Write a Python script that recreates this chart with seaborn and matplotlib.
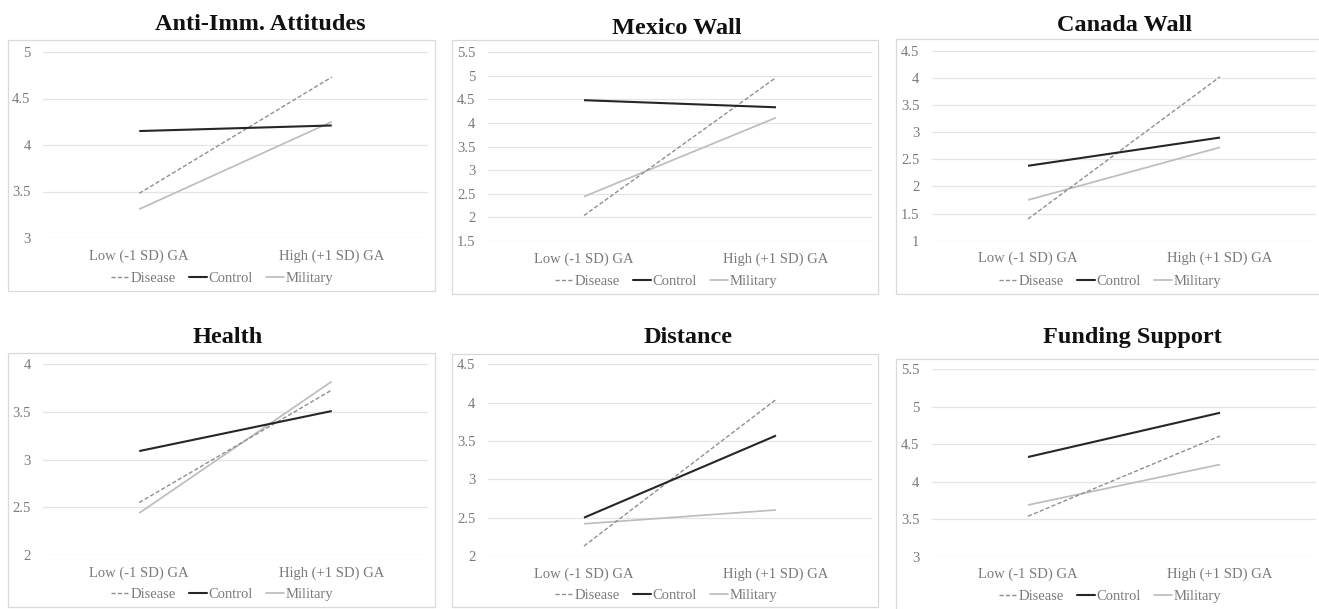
import numpy as np
import pandas as pd
import matplotlib
matplotlib.use("Agg")
import matplotlib.pyplot as plt
from matplotlib.lines import Line2D
from matplotlib.patches import Rectangle
import seaborn as sns

# ---- data ----
levels = ["Low (-1 SD) GA", "High (+1 SD) GA"]
conditions = ["Disease", "Control", "Military"]
titles = ["Anti-Imm. Attitudes", "Mexico Wall", "Canada Wall",
          "Health", "Distance", "Funding Support"]

disease = [[3.48, 4.73], [2.04, 4.96], [1.40, 4.02],
           [2.55, 3.73], [2.13, 4.04], [3.54, 4.61]]
control = [[4.15, 4.21], [4.48, 4.33], [2.38, 2.90],
           [3.09, 3.51], [2.50, 3.57], [4.33, 4.92]]
military = [[3.31, 4.25], [2.44, 4.11], [1.75, 2.72],
            [2.44, 3.82], [2.42, 2.60], [3.69, 4.23]]

y_ranges = [(3.0, 5.0), (1.5, 5.5), (1.0, 4.5),
            (2.0, 4.0), (2.0, 4.5), (3.0, 5.5)]

# ---- styling ----
sns.set_theme(style="white")
plt.rcParams["font.family"] = ["Liberation Serif", "DejaVu Serif"]

W, H = 1319, 609
fig = plt.figure(figsize=(W / 100, H / 100), dpi=100)
fig.patch.set_facecolor("white")

line_styles = {
    "Disease": dict(color="#8f8f8f", linewidth=1.0, dashes=(3, 1.6)),
    "Control": dict(color="#262626", linewidth=1.5, dashes=()),
    "Military": dict(color="#bdbdbd", linewidth=1.25, dashes=()),
}

tick_color = "#7a7a7a"
grid_color = "#e4e4e4"
box_color = "#d9d9d9"

# pixel layout: plot area (x0, x1, ytop, ybottom), chart box, title, legend
plot_px = [(43, 428, 52, 238), (488, 872, 52, 241), (932, 1316, 50.7, 240.7),
           (43, 428, 364.3, 555), (488, 872, 364.3, 556), (932, 1316, 369.3, 556.7)]
box_px = [(8, 435, 40, 291), (452, 878, 40, 294), (896, 1325, 39, 294),
          (8, 435, 353, 607), (452, 878, 354, 607), (896, 1325, 358.7, 615)]
title_px = [(260, 30), (677, 34.3), (1125, 31),
            (227.5, 343.3), (688, 343.3), (1132, 343.3)]
legend_px = [(222, 278), (666, 281), (1110, 281),
             (222, 594), (666, 595.7), (1110, 596)]

series = {"Disease": disease, "Control": control, "Military": military}

for i in range(6):
    bx0, bx1, by0, by1 = box_px[i]
    fig.add_artist(Rectangle((bx0 / W, 1 - by1 / H), (bx1 - bx0) / W,
                             (by1 - by0) / H, transform=fig.transFigure,
                             fill=False, edgecolor=box_color, linewidth=0.9))

    x0, x1, yt, yb = plot_px[i]
    ax = fig.add_axes([x0 / W, 1 - yb / H, (x1 - x0) / W, (yb - yt) / H])
    ax.set_facecolor("none")

    rows = []
    for cond in conditions:
        for lev, val in zip(levels, series[cond][i]):
            rows.append({"level": lev, "value": val, "condition": cond})
    df = pd.DataFrame(rows)

    for cond in ["Military", "Disease", "Control"]:
        st = line_styles[cond]
        sns.lineplot(data=df[df["condition"] == cond], x="level", y="value",
                     ax=ax, color=st["color"], linewidth=st["linewidth"],
                     sort=False, legend=False)
        ln = ax.lines[-1]
        if st["dashes"]:
            ln.set_dashes(st["dashes"])
        ln.set_solid_capstyle("butt")
        ln.set_dash_capstyle("butt")

    lo, hi = y_ranges[i]
    ax.set_ylim(lo, hi)
    ax.set_yticks(np.arange(lo, hi + 0.001, 0.5))
    ax.set_yticklabels([f"{v:g}" for v in np.arange(lo, hi + 0.001, 0.5)])
    ax.set_xlim(-0.5, 1.5)
    ax.set_xlabel("")
    ax.set_ylabel("")
    ax.yaxis.grid(True, color=grid_color, linewidth=0.9)
    ax.xaxis.grid(False)
    ax.set_axisbelow(True)
    for sp in ax.spines.values():
        sp.set_visible(False)
    ax.tick_params(axis="y", length=0, pad=9, labelsize=10.5, labelcolor=tick_color)
    ax.tick_params(axis="x", length=0, pad=8, labelsize=10.5, labelcolor=tick_color)

    tx, ty = title_px[i]
    fig.text(tx / W, 1 - ty / H, titles[i], ha="center", va="baseline",
             fontsize=17.5, fontweight="bold", color="#111111")

    handles = []
    for cond in conditions:
        st = line_styles[cond]
        h = Line2D([], [], color=st["color"], linewidth=st["linewidth"])
        if st["dashes"]:
            h.set_dashes(st["dashes"])
        handles.append(h)
    lx, ly = legend_px[i]
    leg = ax.legend(handles, conditions, loc="center",
                    bbox_to_anchor=(lx / W, 1 - ly / H),
                    bbox_transform=fig.transFigure, ncol=3, frameon=False,
                    fontsize=10.5, handlelength=1.25, handletextpad=0.1,
                    columnspacing=0.9, borderpad=0, borderaxespad=0)
    for t in leg.get_texts():
        t.set_color(tick_color)

fig.savefig("out.png", dpi=100, facecolor="white")
